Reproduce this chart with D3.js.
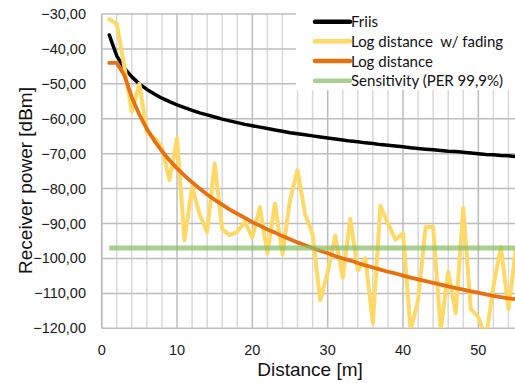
<!DOCTYPE html>
<html>
<head>
<meta charset="utf-8">
<script src="https://cdn.jsdelivr.net/npm/d3@7"></script>
<style>
  body { margin: 0; background: #fff; }
  svg { display: block; }
  .legend text { white-space: pre; }
</style>
</head>
<body>
<div id="chart"></div>
<script>
// Distances in metres (one point per metre)
const distances = [1,2,3,4,5,6,7,8,9,10,11,12,13,14,15,16,17,18,19,20,21,22,23,24,25,26,27,28,29,30,
  31,32,33,34,35,36,37,38,39,40,41,42,43,44,45,46,47,48,49,50,51,52,53,54,55];

// Friis model
const friis = [-36.0,-42.0,-45.5,-48.0,-50.0,-51.6,-52.9,-54.1,-55.1,-56.0,-56.8,-57.6,-58.3,-58.9,-59.5,
  -60.1,-60.6,-61.1,-61.6,-62.0,-62.4,-62.8,-63.2,-63.6,-64.0,-64.3,-64.6,-64.9,-65.2,-65.5,
  -65.8,-66.1,-66.4,-66.6,-66.9,-67.1,-67.4,-67.6,-67.8,-68.0,-68.3,-68.5,-68.7,-68.9,-69.1,
  -69.3,-69.4,-69.6,-69.8,-70.0,-70.2,-70.3,-70.5,-70.6,-70.8];

// Log distance with fading
const fading = [-31.5,-32.8,-45.0,-58.0,-50.0,-63.8,-65.4,-68.3,-77.6,-65.6,-94.8,-79.5,-87.4,-92.4,-72.8,
  -91.7,-93.3,-92.4,-89.5,-94.0,-85.3,-98.5,-84.3,-98.8,-83.3,-74.7,-87.3,-93.0,-112.0,-104.0,
  -93.5,-105.5,-88.6,-103.4,-100.0,-118.5,-85.0,-90.0,-94.6,-92.8,-120.5,-112.0,-91.0,-91.0,-120.5,
  -103.8,-115.7,-85.5,-114.5,-116.7,-123.0,-108.0,-96.7,-114.5,-97.0];

// Log distance model
const logDist = [-44.0,-44.0,-47.5,-53.9,-58.8,-62.9,-66.3,-69.3,-71.9,-74.2,-76.3,-78.2,-80.0,-81.7,-83.2,
  -84.6,-86.0,-87.2,-88.4,-89.6,-90.6,-91.7,-92.6,-93.6,-94.5,-95.4,-96.2,-97.0,-97.8,-98.5,
  -99.3,-100.0,-100.6,-101.3,-102.0,-102.6,-103.2,-103.8,-104.3,-104.9,-105.5,-106.0,-106.5,-107.0,-107.5,
  -108.0,-108.5,-108.9,-109.4,-109.8,-110.3,-110.7,-111.1,-111.4,-111.7];

// Receiver sensitivity (PER 99,9%)
const sensitivity = -97;

const seriesNames = ["Friis", "Log distance  w/ fading", "Log distance", "Sensitivity (PER 99,9%)"];
const yTicks = [-30,-40,-50,-60,-70,-80,-90,-100,-110,-120];
const xTicks = [0,10,20,30,40,50];

const width = 515, height = 383;
const plotLeft = 101.7, plotRight = 516, plotTop = 14, plotBottom = 328.3;
const orange = "#e8700f";

const svg = d3.select("#chart").append("svg")
  .attr("width", width)
  .attr("height", height);

const x = d3.scaleLinear().domain([0, 55]).range([plotLeft, plotRight]);
const y = d3.scaleLinear().domain([-120, -30]).range([plotBottom, plotTop]);

// gridlines
const grid = svg.append("g");
const minorX = d3.range(2, 56, 2).filter(v => v % 10 !== 0);
grid.selectAll(".minor").data(minorX).join("line")
  .attr("x1", d => x(d)).attr("x2", d => x(d))
  .attr("y1", plotTop).attr("y2", plotBottom)
  .attr("stroke", "#d9d9d9").attr("stroke-width", 1.5);
grid.selectAll(".majx").data(xTicks).join("line")
  .attr("x1", d => x(d)).attr("x2", d => x(d))
  .attr("y1", plotTop).attr("y2", plotBottom)
  .attr("stroke", "#bdbdbd").attr("stroke-width", 1.5);
grid.selectAll(".majy").data(yTicks).join("line")
  .attr("x1", plotLeft).attr("x2", plotRight)
  .attr("y1", d => y(d)).attr("y2", d => y(d))
  .attr("stroke", "#bdbdbd").attr("stroke-width", 1.5);

// tick labels
const fmt = d => d3.format(".2f")(d).replace(".", ",");
svg.append("g").selectAll("text").data(yTicks).join("text")
  .attr("x", 86).attr("y", d => y(d) + 5)
  .attr("text-anchor", "end")
  .attr("font-family", "Liberation Sans, Arial, sans-serif")
  .attr("font-size", 14.5)
  .attr("fill", "#1a1a1a")
  .text(fmt);
svg.append("g").selectAll("text").data(xTicks).join("text")
  .attr("x", d => x(d)).attr("y", 354.5)
  .attr("text-anchor", "middle")
  .attr("font-family", "Liberation Sans, Arial, sans-serif")
  .attr("font-size", 14.5)
  .attr("fill", "#1a1a1a")
  .text(d => d);

// axis titles
svg.append("text")
  .attr("x", 310).attr("y", 375.5)
  .attr("text-anchor", "middle")
  .attr("font-family", "Liberation Sans, Arial, sans-serif")
  .attr("font-size", 19)
  .attr("fill", "#111")
  .text("Distance [m]");
svg.append("text")
  .attr("transform", "translate(32,180.5) rotate(-90)")
  .attr("text-anchor", "middle")
  .attr("font-family", "Liberation Sans, Arial, sans-serif")
  .attr("font-size", 19)
  .attr("fill", "#111")
  .text("Receiver power [dBm]");

// series
svg.append("clipPath").attr("id", "plotclip")
  .append("rect").attr("x", plotLeft).attr("y", plotTop - 10)
  .attr("width", plotRight - plotLeft).attr("height", plotBottom - plotTop + 10);

const line = d3.line().x((d, i) => x(distances[i])).y(d => y(d));
const plot = svg.append("g").attr("clip-path", "url(#plotclip)");

plot.append("path").datum(friis).attr("d", line)
  .attr("fill", "none").attr("stroke", "#000").attr("stroke-width", 3.5)
  .attr("stroke-linejoin", "round").attr("stroke-linecap", "round");
plot.append("path").datum(fading).attr("d", line)
  .attr("fill", "none").attr("stroke", "#ffd966").attr("stroke-width", 4)
  .attr("stroke-linejoin", "round").attr("stroke-linecap", "round");
plot.append("path").datum(logDist).attr("d", line)
  .attr("fill", "none").attr("stroke", orange).attr("stroke-width", 3.8)
  .attr("stroke-linejoin", "round").attr("stroke-linecap", "round");
plot.append("path").datum(distances.map(() => sensitivity)).attr("d", line)
  .attr("fill", "none").attr("stroke", "rgb(140,192,105)").attr("stroke-opacity", 0.75)
  .attr("stroke-width", 5);

// left axis line
svg.append("line")
  .attr("x1", plotLeft).attr("x2", plotLeft).attr("y1", plotTop).attr("y2", plotBottom)
  .attr("stroke", "#bdbdbd").attr("stroke-width", 1.5);

// legend
const legendColors = ["#000", "#ffd966", orange, "rgb(169,208,143)"];
const legendY = [21.7, 41.2, 61, 80.7];
const legend = svg.append("g").attr("class", "legend");
legend.append("rect").attr("x", 296).attr("y", 0).attr("width", 220).attr("height", 90)
  .attr("fill", "#fff");
const rows = legend.selectAll("g").data(seriesNames).join("g")
  .attr("transform", (d, i) => `translate(0,${legendY[i]})`);
rows.append("line")
  .attr("x1", 315).attr("x2", 350).attr("y1", 0).attr("y2", 0)
  .attr("stroke", (d, i) => legendColors[i]).attr("stroke-width", 4.5)
  .attr("stroke-linecap", "round");
rows.append("text")
  .attr("x", 351).attr("y", 5.5)
  .attr("font-family", "Lato, sans-serif")
  .attr("font-size", 15)
  .attr("fill", "#111")
  .text(d => d);
</script>
</body>
</html>
